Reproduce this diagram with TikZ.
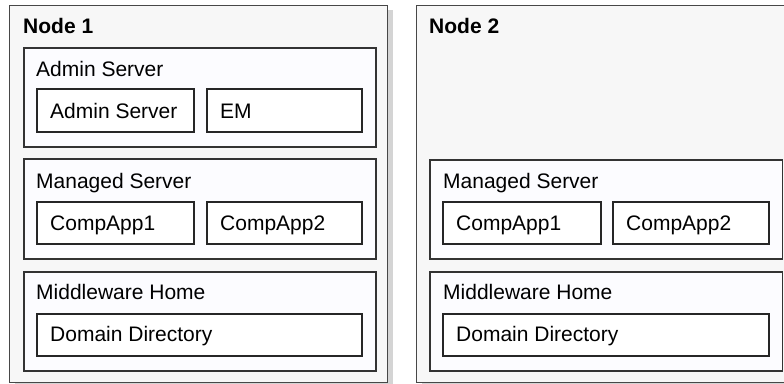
\documentclass[tikz,border=0pt]{standalone}
\usepackage{fontspec}
\setmainfont{Liberation Sans}
\begin{document}
\begin{tikzpicture}[x=1pt,y=-1pt,
  outerbox/.style={draw=black!72,line width=1.4pt,fill=black!3,inner sep=0pt,anchor=north west},
  shadowbox/.style={fill=black!17,draw=none,inner sep=0pt,anchor=north west},
  contbox/.style={draw=black!80,line width=1.5pt,fill=black!6!blue!1!white,inner sep=0pt,anchor=north west},
  inbox/.style={draw=black!85,line width=2pt,fill=white,inner sep=0pt,anchor=north west},
  title/.style={font=\fontsize{21}{25}\selectfont\bfseries,inner sep=0pt,anchor=base west},
  lbl/.style={font=\fontsize{21}{25}\selectfont,inner sep=0pt,anchor=base west}]
\useasboundingbox (0,0) rectangle (784,383);
\begin{scope}
\clip (0,0) rectangle (784,383);
% shadows
\node[shadowbox,minimum width=378pt,minimum height=377pt] (sh1) at (15,10) {};
\node[shadowbox,minimum width=374pt,minimum height=377pt] (sh2) at (422,10) {};
% outer nodes
\node[outerbox,minimum width=378pt,minimum height=377pt] (n1) at (9,5) {};
\node[outerbox,minimum width=374pt,minimum height=377pt] (n2) at (416,5) {};
\end{scope}
\node[title] (t1) at (23,33) {Node 1};
\node[title] (t2) at (429,33) {Node 2};
% Node 1 containers
\node[contbox,minimum width=352pt,minimum height=99pt] (as) at (23,47) {};
\node[lbl] (asl) at (36,76) {Admin Server};
\node[inbox,minimum width=157pt,minimum height=43pt] (asb) at (36,88) {};
\node[lbl] (asbl) at (50,118) {Admin Server};
\node[inbox,minimum width=155pt,minimum height=43pt] (em) at (206,88) {};
\node[lbl] (eml) at (220,118) {EM};
\node[contbox,minimum width=352pt,minimum height=100pt] (ms1) at (23,158) {};
\node[lbl] (ms1l) at (36,188) {Managed Server};
\node[inbox,minimum width=157pt,minimum height=42pt] (c11) at (36,201) {};
\node[lbl] (c11l) at (50,230) {CompApp1};
\node[inbox,minimum width=155pt,minimum height=42pt] (c12) at (206,201) {};
\node[lbl] (c12l) at (220,230) {CompApp2};
\node[contbox,minimum width=352pt,minimum height=99pt] (mw1) at (23,271) {};
\node[lbl] (mw1l) at (36,299) {Middleware Home};
\node[inbox,minimum width=325pt,minimum height=42pt] (dd1) at (36,313) {};
\node[lbl] (dd1l) at (50,341.5) {Domain Directory};
% Node 2 containers
\node[contbox,minimum width=352.5pt,minimum height=99pt] (ms2) at (429,159) {};
\node[lbl] (ms2l) at (443,188) {Managed Server};
\node[inbox,minimum width=158pt,minimum height=42pt] (c21) at (442,201) {};
\node[lbl] (c21l) at (456,230) {CompApp1};
\node[inbox,minimum width=156pt,minimum height=42pt] (c22) at (612,201) {};
\node[lbl] (c22l) at (626,230) {CompApp2};
\node[contbox,minimum width=352.5pt,minimum height=99pt] (mw2) at (429,271) {};
\node[lbl] (mw2l) at (443,299) {Middleware Home};
\node[inbox,minimum width=326pt,minimum height=42pt] (dd2) at (442,313) {};
\node[lbl] (dd2l) at (456,341.5) {Domain Directory};
\end{tikzpicture}
\end{document}
